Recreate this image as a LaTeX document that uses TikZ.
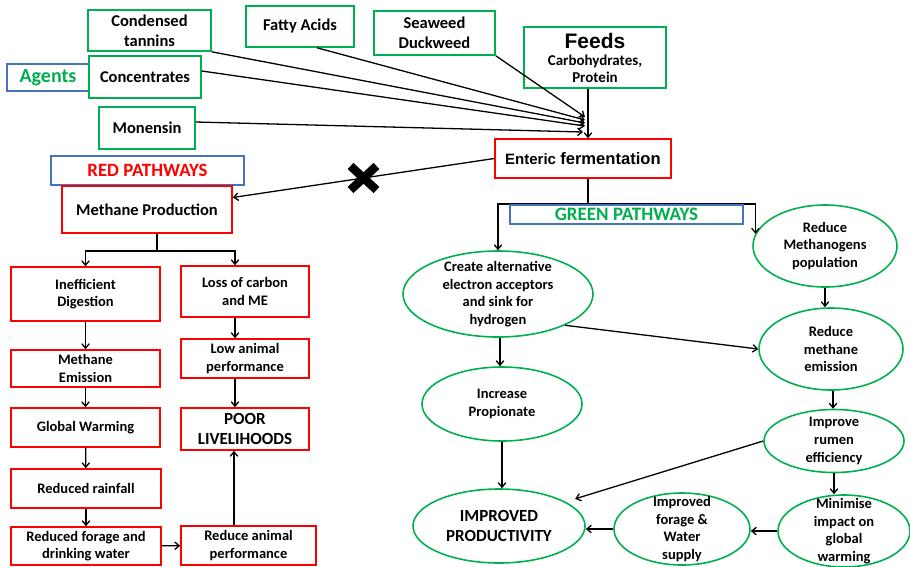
\documentclass[tikz,border=0pt]{standalone}
\usepackage{fontspec}
\setmainfont{Carlito}
\newfontfamily\arialfont{Liberation Sans}
\usetikzlibrary{arrows.meta,shapes.geometric}
\definecolor{agentgreen}{HTML}{00B050}
\definecolor{pathred}{HTML}{FF0000}
\definecolor{tagblue}{HTML}{4472C4}
\tikzset{
 wh/.style 2 args={minimum width=#1pt,minimum height=#2pt},
 ef flow/.style={-{Straight Barb[length=4.5pt,width=7.5pt]},line width=1.3pt},
 ef line/.style={line width=1.3pt},
 agent box/.style={draw=agentgreen,line width=1.6pt,fill=white,inner sep=0pt,
   align=center,font=\fontsize{16.5}{20}\selectfont\bfseries},
 red box/.style={draw=pathred,line width=1.6pt,fill=white,inner sep=0pt,
   align=center,font=\fontsize{14.5}{17.5}\selectfont\bfseries},
 path tag/.style={draw=tagblue,line width=1.3pt,fill=white,inner sep=0pt,
   font=\fontsize{18.8}{20}\selectfont\bfseries},
 gain oval/.style={ellipse,draw=agentgreen,line width=1.6pt,fill=white,
   inner xsep=0pt,inner ysep=-10pt,align=center,
   font=\fontsize{14.5}{17.7}\selectfont\bfseries}
}

\begin{document}
\begin{tikzpicture}[x=1pt,y=-1pt]
\useasboundingbox (0,0) rectangle (910,566);
% agents and feeds
\node[agent box,wh={123}{41}] (tannins) at (149.5,30.5) {Condensed\\tannins};
\node[agent box,wh={108}{41}] (fatty) at (300,26.5) {Fatty Acids};
\node[agent box,wh={121}{44}] (seaweed) at (434.5,33) {Seaweed\\Duckweed};
\node[path tag,wh={82}{27},text=agentgreen,font=\fontsize{20}{22}\selectfont\bfseries]
  (agents) at (48,77.5) {Agents};
\node[agent box,wh={112}{42}] (conc) at (145,77) {Concentrates};
\node[agent box,wh={96}{42}] (monensin) at (147,128) {Monensin};
\node[agent box,wh={142}{61},font=\fontsize{15}{17}\selectfont\bfseries] (feeds) at (595,57.5)
  {{\arialfont\fontsize{21}{24}\selectfont Feeds}\\Carbohydrates,\\Protein};
\node[red box,wh={176}{39}] (enteric) at (583,158.5)
  {\arialfont\fontsize{15}{18}\selectfont Enteric {\fontsize{16.6}{18}\selectfont fermentation}};
\coordinate (hub) at (585,124);
\draw[ef flow] (seaweed.south east) -- ([yshift=7]hub);
\draw[ef flow] ([xshift=17]fatty.south) -- ([yshift=4]hub);
\draw[ef flow] (tannins.south east) -- ([yshift=1]hub);
\draw[ef flow] ([yshift=6]conc.east) -- ([yshift=-2]hub);
\draw[ef flow] ([yshift=6]monensin.east) -- ([xshift=-2,yshift=-8]hub);
\draw[ef flow] ([xshift=-7]feeds.south) -- ([xshift=5]enteric.north);

% red pathways
\node[path tag,wh={193}{29},text=pathred] (redtag) at (147.5,170.5) {RED PATHWAYS};
\node[red box,wh={170}{47},font=\fontsize{16.5}{19}\selectfont\bfseries]
  (methprod) at (147,209.5) {Methane Production};
\node[red box,wh={149}{54}] (ineff) at (85.5,294) {Inefficient\\Digestion};
\node[red box,wh={128}{51}] (loss) at (245,291.5) {Loss of carbon\\and ME};
\node[red box,wh={149}{37}] (methem) at (85.5,368.5) {Methane\\Emission};
\node[red box,wh={128}{39}] (lowperf) at (245,358.5) {Low animal\\performance};
\node[red box,wh={149}{39}] (warming) at (85.5,427.5) {Global Warming};
\node[red box,wh={128}{42},font=\fontsize{17}{20}\selectfont\bfseries]
  (poor) at (245,429) {POOR\\LIVELIHOODS};
\node[red box,wh={150}{39}] (rain) at (86,488.5) {Reduced rainfall};
\node[red box,wh={150}{38}] (forage) at (86,546) {Reduced forage and\\drinking water};
\node[red box,wh={135}{39}] (perf) at (248.5,545.5) {Reduce animal\\performance};
\draw[ef flow] (enteric.west) -- coordinate[pos=.5] (cross) ([yshift=12]methprod.east);
\draw[line width=8.5pt] ([shift={(-13,-12)}]cross) -- ([shift={(13,12)}]cross)
  ([shift={(-13,12)}]cross) -- ([shift={(13,-12)}]cross);
\coordinate (redsplit) at (157,251);
\draw[ef line] ([xshift=10]methprod.south) -- (redsplit);
\draw[ef flow] (redsplit) -| (ineff.north);
\draw[ef flow] (redsplit) -| ([xshift=-10]loss.north);
\draw[ef flow] (ineff) -- (methem);
\draw[ef flow] (methem) -- (warming);
\draw[ef flow] (warming) -- (rain);
\draw[ef flow] (rain) -- (forage);
\draw[ef flow] (forage) -- (perf);
\draw[ef flow] ([xshift=-10]loss.south) -- ([xshift=-10]lowperf.north);
\draw[ef flow] ([xshift=-10]lowperf.south) -- ([xshift=-10]poor.north);
\draw[ef flow] ([xshift=-14.5]perf.north) -- ([xshift=-11]poor.south);

% green pathways
\node[gain oval,wh={144}{82}] (rmp) at (825,246) {Reduce\\Methanogens\\population};
\node[gain oval,wh={190}{86}] (create) at (498,294)
  {Create alternative\\electron acceptors\\and sink for\\hydrogen};
\node[gain oval,wh={144}{82}] (rme) at (831,349) {Reduce\\methane\\emission};
\node[gain oval,wh={160}{74}] (prop) at (502,404) {Increase\\Propionate};
\node[gain oval,wh={140}{63}] (rumen) at (834,441) {Improve\\rumen\\efficiency};
\node[gain oval,wh={172}{74},font=\fontsize{17}{20}\selectfont\bfseries]
  (prod) at (499,526) {IMPROVED\\PRODUCTIVITY};
\node[gain oval,wh={136}{72}] (water) at (682,529) {Improved\\forage \&\\Water\\supply};
\node[gain oval,wh={132}{72}] (impact) at (844,531) {Minimise\\impact on\\global\\warming};
\coordinate (greensplit) at (588,204);
\draw[ef line] ([xshift=5]enteric.south) -- (greensplit);
\draw[ef flow] (greensplit) -| (create.north);
\draw[ef flow] (greensplit) -| (rmp.170);
\node[path tag,wh={233}{19},text=agentgreen,font=\fontsize{19}{19}\selectfont\bfseries]
  (greentag) at (626.5,214.5) {GREEN PATHWAYS};
\draw[ef flow] ([xshift=2]create.south) -- ([xshift=-2]prop.north);
\draw[ef flow] (create.335) -- (rme.west);
\draw[ef flow] (rmp.south) -- (rmp.south |- rme.north);
\draw[ef flow] ([xshift=2]rme.south) -- ([xshift=-1]rumen.north);
\draw[ef flow,shorten >=10pt] (rumen.west) -- (prod.20);
\draw[ef flow] (prop.south) -- (prop.south |- prod.north);
\draw[ef flow] (rumen.south) -- (rumen.south |- impact.north);
\draw[ef flow] (impact.west) -- (impact.west -| water.east);
\draw[ef flow] (water.west) -- (water.west -| prod.east);
\end{tikzpicture}
\end{document}
